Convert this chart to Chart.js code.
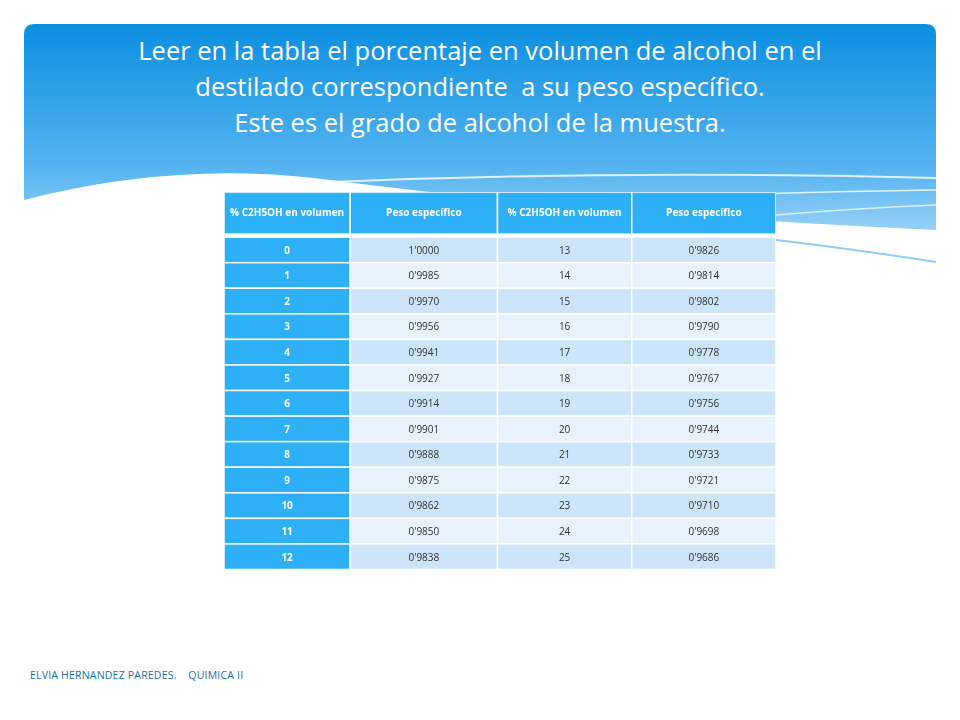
<!DOCTYPE html>
<html><head><meta charset="utf-8">
<script src="https://cdn.jsdelivr.net/npm/chart.js@4"></script>
<style>
body{margin:0;width:960px;height:720px;background:#fff;position:relative;overflow:hidden;font-family:"Open Sans",Lato,sans-serif}
#deco{position:absolute;left:0;top:0}
#title{position:absolute;left:24px;width:912px;top:32px;text-align:center;color:#fff;font-family:"Open Sans",sans-serif;font-size:25.5px;line-height:36px}
#wrap{position:absolute;left:224px;top:192px;width:552px;height:378px}
#foot{position:absolute;left:30px;top:668px;font-size:10.5px;color:#1a6fa8;letter-spacing:0.2px}
</style></head><body>
<svg id="deco" width="960" height="720">
<defs><linearGradient id="g" x1="0" y1="0" x2="0" y2="1">
<stop offset="0" stop-color="#0b8fe0"/><stop offset="0.6" stop-color="#56b4f0"/><stop offset="1" stop-color="#b9e0fa"/></linearGradient></defs>
<path d="M24,34 Q24,24 34,24 L926,24 Q936,24 936,34 L936,265 L24,265 Z" fill="url(#g)"/>
<path d="M24,200 Q180,160 330,180 Q600,215 936,230 L936,265 L24,265 Z" fill="#fff"/>
<path d="M330,182 Q620,170 936,178" stroke="#ffffff" stroke-width="2" fill="none" opacity="0.8"/>
<path d="M600,200 Q780,192 936,190" stroke="#ffffff" stroke-width="1.5" fill="none" opacity="0.8"/>
<path d="M776,240 Q860,250 936,262" stroke="#8fcdf5" stroke-width="2" fill="none"/>
<path d="M776,215 Q860,208 936,205" stroke="#d8effc" stroke-width="1.5" fill="none"/>
</svg>
<div id="title">Leer en la tabla el porcentaje en volumen de alcohol en el<br>destilado correspondiente&nbsp; a su peso específico.<br>Este es el grado de alcohol de la muestra.</div>
<div id="wrap"><canvas id="c"></canvas></div>
<div id="foot">ELVIA HERNANDEZ PAREDES.&nbsp;&nbsp;&nbsp; QUIMICA II</div>
<script>
const headers = ["% C2H5OH en volumen","Peso específico","% C2H5OH en volumen","Peso específico"];
const pctA = ["0","1","2","3","4","5","6","7","8","9","10","11","12"];
const pesoA = ["1'0000","0'9985","0'9970","0'9956","0'9941","0'9927","0'9914","0'9901","0'9888","0'9875","0'9862","0'9850","0'9838"];
const pctB = ["13","14","15","16","17","18","19","20","21","22","23","24","25"];
const pesoB = ["0'9826","0'9814","0'9802","0'9790","0'9778","0'9767","0'9756","0'9744","0'9733","0'9721","0'9710","0'9698","0'9686"];
const colEdges = [0,126,273,407,551];
const headerH = 42, firstRow = 45, rowH = 25.5;
const cols = [pctA,pesoA,pctB,pesoB];

const tablePlugin = {
  id:'table',
  afterDraw(chart){
    const ctx = chart.ctx, x = chart.scales.x, y = chart.scales.y;
    ctx.save();
    ctx.textAlign='center';ctx.textBaseline='middle';
    // header
    for(let c=0;c<4;c++){
      const x0=x.getPixelForValue(colEdges[c]), x1=x.getPixelForValue(colEdges[c+1]);
      const y0=y.getPixelForValue(0), y1=y.getPixelForValue(headerH);
      ctx.fillStyle='#2eb0f7';ctx.fillRect(x0,y0,x1-x0,y1-y0);
      ctx.strokeStyle='#fff';ctx.lineWidth=1.5;ctx.strokeRect(x0,y0,x1-x0,y1-y0);
      ctx.fillStyle='#fff';ctx.font='bold 10px "Open Sans",sans-serif';
      ctx.fillText(headers[c],(x0+x1)/2,(y0+y1)/2);
    }
    for(let r=0;r<pctA.length;r++){
      const y0=y.getPixelForValue(firstRow+r*rowH), y1=y.getPixelForValue(firstRow+(r+1)*rowH);
      for(let c=0;c<4;c++){
        const x0=x.getPixelForValue(colEdges[c]), x1=x.getPixelForValue(colEdges[c+1]);
        ctx.fillStyle = c===0 ? '#2eb0f7' : (r%2===0 ? '#cde5fb' : '#e8f2fd');
        ctx.fillRect(x0,y0,x1-x0,y1-y0);
        ctx.strokeStyle='#fff';ctx.lineWidth=1.5;ctx.strokeRect(x0,y0,x1-x0,y1-y0);
        ctx.fillStyle = c===0 ? '#fff' : '#333';
        ctx.font = (c===0?'bold ':'')+'10px "Open Sans",sans-serif';
        ctx.fillText(cols[c][r],(x0+x1)/2,(y0+y1)/2+1);
      }
    }
    ctx.restore();
  }
};
new Chart(document.getElementById('c'),{
  type:'scatter',
  data:{datasets:[{data:[]}]},
  options:{responsive:true,maintainAspectRatio:false,animation:false,
    layout:{padding:0},
    plugins:{legend:{display:false},tooltip:{enabled:false}},
    scales:{
      x:{type:'linear',min:0,max:551,display:false},
      y:{type:'linear',min:0,max:377,reverse:true,display:false}
    }},
  plugins:[tablePlugin]
});
</script>
</body></html>
